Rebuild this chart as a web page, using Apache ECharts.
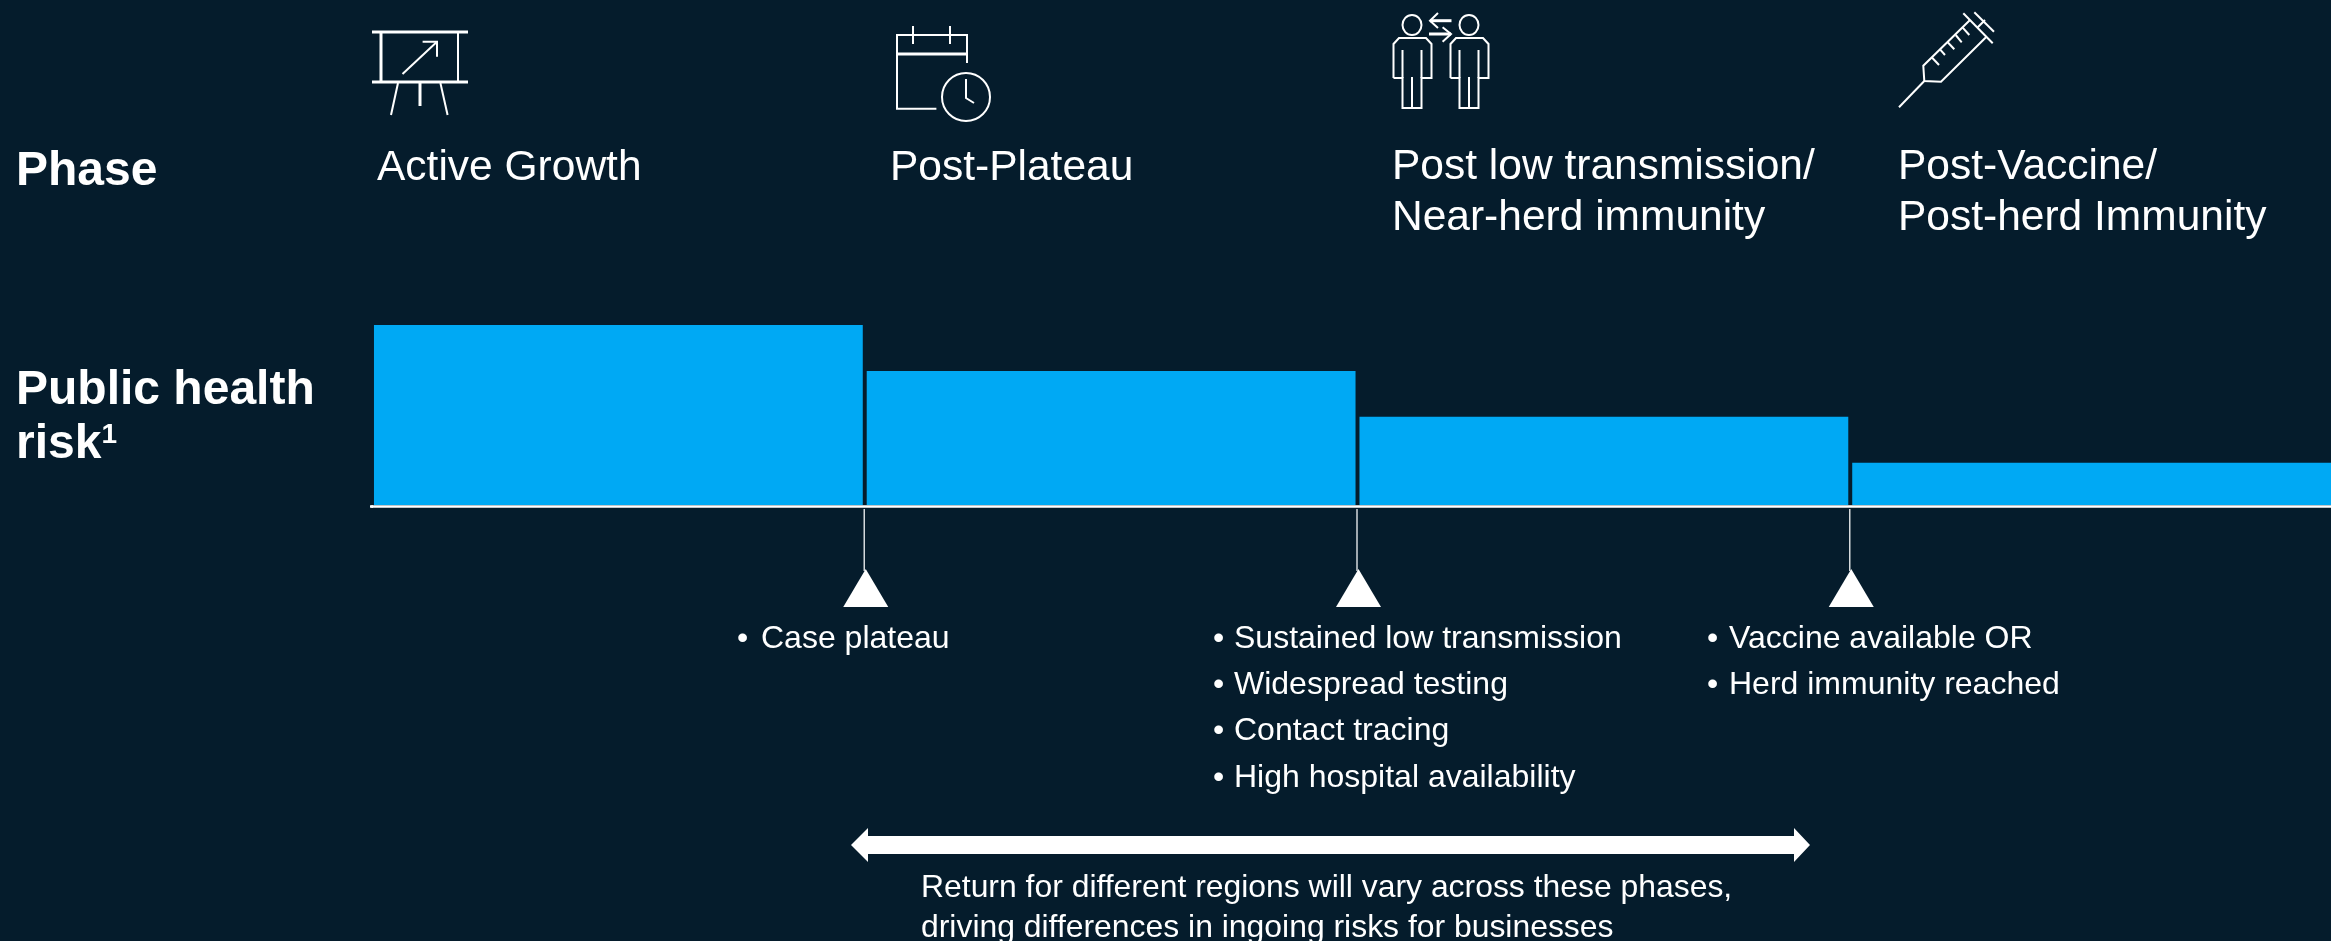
<!DOCTYPE html>
<html lang="en">
<head>
	<meta charset="UTF-8">
	<title>Public health risk by phase</title>
	<style>
		html, body { margin: 0; padding: 0; background: #051c2c; }
		#charts { width: 2331px; height: 941px; }
	</style>
	<script src="https://cdn.jsdelivr.net/npm/echarts@6/dist/echarts.min.js"></script>
</head>
<body>
<div id="charts"></div>
<script>
	var phases = ['Active Growth', 'Post-Plateau', 'Post low transmission/\nNear-herd immunity', 'Post-Vaccine/\nPost-herd Immunity'];
	var riskValues = [100, 74.5, 49, 23.5];
	var milestones = [1, 2, 3];
	var caseBullets = ['Case plateau'];
	var lowBullets = ['Sustained low transmission', 'Widespread testing', 'Contact tracing', 'High hospital availability'];
	var vaccineBullets = ['Vaccine available OR', 'Herd immunity reached'];
	var returnNote = ['Return for different regions will vary across these phases,', 'driving differences in ingoing risks for businesses'];

	var bg = '#051c2c';
	var blue = '#00a9f4';
	var white = '#ffffff';
	var font = '"Liberation Sans", Arial, sans-serif';

	function text(x, y, str, size, weight) {
		return {
			type: 'text', x: x, y: y,
			style: { text: str, fill: white, font: (weight || 'normal') + ' ' + size + 'px ' + font, verticalAlign: 'middle', align: 'left', lineHeight: 51 }
		};
	}
	function line(points, width) {
		return {
			type: 'polyline',
			shape: { points: points },
			style: { stroke: white, fill: null, lineWidth: width || 2 }
		};
	}
	function ellipse(cx, cy, rx, ry) {
		return {
			type: 'ellipse',
			shape: { cx: cx, cy: cy, rx: rx, ry: ry },
			style: { stroke: white, fill: null, lineWidth: 2 }
		};
	}
	function bullets(list, bx, tx, y) {
		var out = [];
		list.forEach(function (s, i) {
			out.push(text(bx, y + i * 46.3, '•', 32));
			out.push(text(tx, y + i * 46.3, s, 32));
		});
		return out;
	}
	function person(dx) {
		var x = function (v) { return v + dx; };
		return [
			ellipse(x(1412), 25, 9.5, 10),
			line([[x(1393.5), 78], [x(1393.5), 44], [x(1399), 38], [x(1426), 38], [x(1431.5), 44], [x(1431.5), 78], [x(1421.5), 78], [x(1421.5), 108], [x(1402.5), 108], [x(1402.5), 78], [x(1393.5), 78]]),
			line([[x(1402.5), 50], [x(1402.5), 78]]),
			line([[x(1421.5), 50], [x(1421.5), 78]]),
			line([[x(1412), 77], [x(1412), 108]])
		];
	}

	var icons = [
		// easel
		line([[372, 32], [468, 32]], 3), line([[372, 82], [468, 82]], 3),
		line([[381, 32], [381, 82]], 3), line([[458, 32], [458, 82]]),
		line([[402.5, 74], [437, 41.7]]), line([[422.6, 41.7], [437, 41.7], [437, 56.7]]),
		line([[398, 83], [391, 115]]), line([[420, 83], [420, 106]], 3), line([[440.4, 83], [447.6, 115]]),
		// calendar
		line([[967, 63], [967, 35], [897, 35], [897, 108.7], [936.4, 108.7]]),
		line([[897, 54], [967, 54]], 3),
		line([[913, 26], [913, 44]]), line([[950, 26], [950, 44]]),
		ellipse(966, 97, 24, 24),
		line([[966, 79], [966, 98], [974, 103]]),
		// two people
		line([[1451.5, 20.7], [1430, 20.7]], 3), line([[1438, 13], [1430, 20.7], [1438, 28]]),
		line([[1429, 34], [1451, 34]], 3), line([[1442.6, 27.3], [1451, 34], [1442.6, 41.7]]),
		// syringe
		line([[1899, 107.3], [1924.3, 81]]),
		line([[1970, 20], [1923.3, 65.7], [1924.3, 81], [1941, 81.7], [1986, 37.3]]),
		line([[1963.3, 13.3], [1992.7, 43.3]]),
		line([[1974.3, 12.3], [1994, 31.7]]),
		line([[1977.3, 27.7], [1985, 20]]),
		line([[1931.7, 57.3], [1939, 65]]), line([[1940, 49.3], [1945, 55]]), line([[1947.7, 42.3], [1954.3, 49.3]]),
		line([[1955.7, 35], [1961.7, 42.3]]), line([[1962.7, 27.7], [1969.3, 35]])
	].concat(person(0), person(57));

	var labels = [
		text(16, 172, 'Phase', 48, 'bold'),
		text(16, 391, 'Public health', 48, 'bold'),
		{
			type: 'text', x: 16, y: 445,
			style: {
				text: '{b|risk}{s|1}',
				verticalAlign: 'middle',
				rich: {
					b: { fill: white, font: 'bold 48px ' + font },
					s: { fill: white, font: 'bold 28px ' + font, verticalAlign: 'top', padding: [0, 0, 14, 0] }
				}
			}
		},
		text(377, 168, phases[0], 42.5),
		text(890, 168, phases[1], 42.5),
		text(1392, 193, phases[2], 42.5),
		text(1898, 193, phases[3], 42.5),
		{
			type: 'polygon',
			shape: { points: [[851, 845], [868, 828], [868, 836], [1794, 836], [1794, 828], [1810, 845], [1794, 862], [1794, 854], [868, 854], [868, 862]] },
			style: { fill: white }
		},
		text(921, 888, returnNote[0], 31.9),
		text(921, 928, returnNote[1], 31.9)
	].concat(bullets(caseBullets, 737, 761, 639), bullets(lowBullets, 1213, 1234, 639), bullets(vaccineBullets, 1707, 1729, 639));

	var charts = echarts.init(document.getElementById('charts'));
	charts.setOption({
		animation: false,
		backgroundColor: bg,
		grid: { left: 372, top: 325, height: 180, width: 1971, outerBoundsMode: 'none' },
		xAxis: [
			{
				type: 'category',
				data: phases,
				offset: 1.5,
				axisTick: { show: false },
				axisLabel: { show: false },
				axisLine: { onZero: false, lineStyle: { color: white, width: 2.5 } }
			},
			{ type: 'value', min: 0, max: 4, show: false }
		],
		yAxis: { type: 'value', min: 0, max: 100, show: false },
		graphic: {
			// the axis line starts a little left of the first bar
			elements: icons.concat(labels, [line([[370, 506.5], [373, 506.5]], 2.5)])
		},
		series: [
			{
				name: 'Public health risk',
				type: 'bar',
				xAxisIndex: 0,
				barCategoryGap: '0.8%',
				itemStyle: { color: blue },
				data: riskValues
			},
			{
				name: 'Milestones',
				type: 'custom',
				xAxisIndex: 1,
				clip: false,
				encode: { x: 0, y: 1 },
				data: milestones.map(function (m) { return [m, 0]; }),
				renderItem: function (params, api) {
					var p = api.coord([api.value(0), 0]);
					var x = p[0] - 0.5;
					return {
						type: 'group',
						children: [
							{ type: 'line', shape: { x1: x, y1: p[1] + 4, x2: x, y2: p[1] + 66 }, style: { stroke: '#d5d9dc', lineWidth: 1.5 } },
							{ type: 'polygon', shape: { points: [[x + 1.5, p[1] + 64], [x + 24, p[1] + 102], [x - 21, p[1] + 102]] }, style: { fill: white } }
						]
					};
				}
			}
		]
	});
</script>
</body>
</html>
